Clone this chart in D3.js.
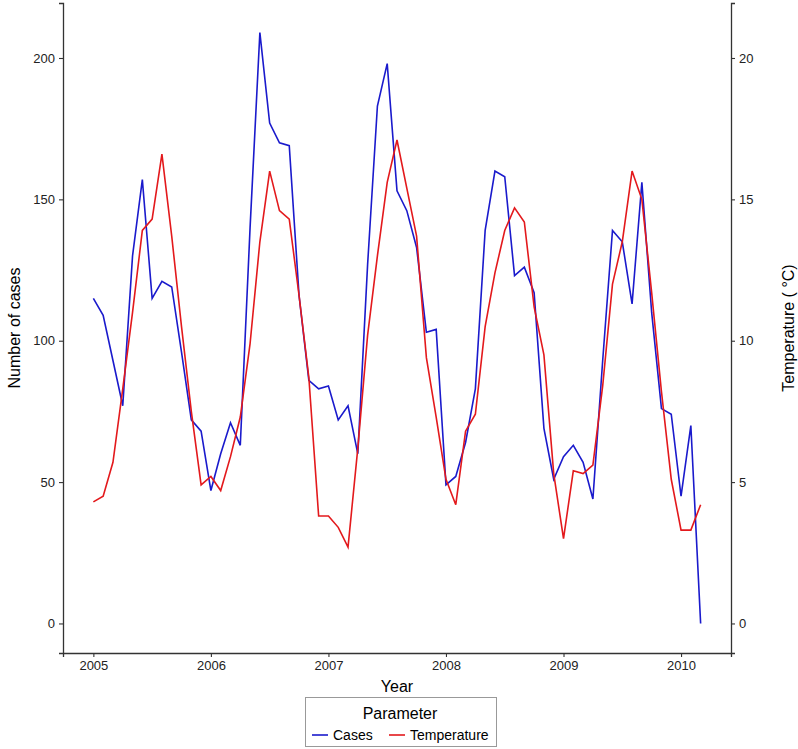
<!DOCTYPE html>
<html><head><meta charset="utf-8">
<script src="https://d3js.org/d3.v7.min.js"></script>
<style>body{margin:0;background:#fff;} text{font-family:"Liberation Sans",Arial,sans-serif;}</style>
</head><body>
<svg id="chart" width="798" height="749"></svg>
<script>
// Monthly observations, Jan 2005 .. Mar 2010
const startYear = 2005;
const cases = [115,109,93,77,130,157,115,121,119,96,72,68,
               47,60,71,63,140,209,177,170,169,116,86,83,
               84,72,77,60,127,183,198,153,146,133,103,104,
               49,52,64,83,139,160,158,123,126,117,69,51,
               59,63,57,44,93,139,135,113,156,110,76,74,
               45,70,0];
const temperature = [4.3,4.5,5.7,8.3,11.0,13.9,14.3,16.6,13.7,10.5,7.5,4.9,
                     5.2,4.7,5.9,7.3,9.9,13.5,16.0,14.6,14.3,11.6,8.7,3.8,
                     3.8,3.4,2.7,6.2,10.2,13.0,15.6,17.1,15.4,13.7,9.4,7.3,
                     5.1,4.2,6.8,7.4,10.5,12.4,13.9,14.7,14.2,11.2,9.5,5.3,
                     3.0,5.4,5.3,5.6,8.4,12.0,13.5,16.0,15.0,11.7,8.2,5.1,
                     3.3,3.3,4.2];
const xTicks = [2005,2006,2007,2008,2009,2010];
const leftTicks = [0,50,100,150,200];
const rightTicks = [0,5,10,15,20];
const seriesNames = ["Cases","Temperature"];
const seriesColors = ["#1a1acc","#e3191c"];
const tempFactor = 10; // secondary axis: temperature = cases / 10

const svg = d3.select("#chart");
const panel = {left:63, right:731, top:3, bottom:653};

const t = cases.map((_, i) => startYear + i/12);
const xMin = d3.min(t), xMax = d3.max(t);
const xPad = (xMax - xMin) * 0.05;
const x = d3.scaleLinear().domain([xMin - xPad, xMax + xPad]).range([panel.left, panel.right]);
const yMaxData = Math.max(d3.max(cases), d3.max(temperature) * tempFactor);
const yPad = yMaxData * 0.05;
const y = d3.scaleLinear().domain([-yPad, yMaxData + yPad]).range([panel.bottom, panel.top]);
const yR = d3.scaleLinear().domain(y.domain().map(v => v / tempFactor)).range(y.range());

const axisColor = "#333";
function styleAxis(g){
  g.select(".domain").attr("stroke", axisColor).attr("stroke-width", 1.3);
  g.selectAll(".tick line").attr("stroke", axisColor).attr("stroke-width", 1.1);
  g.selectAll(".tick text").attr("fill", "#222").style("font-size", "13px");
}
svg.append("g").attr("transform", `translate(0,${panel.bottom})`)
  .call(d3.axisBottom(x).tickValues(xTicks).tickFormat(d3.format("d")).tickSizeOuter(0).tickSize(4).tickPadding(4))
  .call(styleAxis);
svg.append("g").attr("transform", `translate(${panel.left},0)`)
  .call(d3.axisLeft(y).tickValues(leftTicks).tickSizeOuter(0).tickSize(4).tickPadding(4))
  .call(styleAxis);
svg.append("g").attr("transform", `translate(${panel.right},0)`)
  .call(d3.axisRight(yR).tickValues(rightTicks).tickSizeOuter(0).tickSize(4).tickPadding(4))
  .call(styleAxis);

const line = d3.line().x(d => x(d[0])).y(d => y(d[1]));
const series = [
  cases.map((v,i) => [t[i], v]),
  temperature.map((v,i) => [t[i], v * tempFactor])
];
series.forEach((s, k) => {
  svg.append("path").datum(s).attr("d", line)
    .attr("fill", "none").attr("stroke", seriesColors[k]).attr("stroke-width", 1.6)
    .attr("stroke-linejoin", "miter");
});

// Axis titles
svg.append("text").attr("x", (panel.left+panel.right)/2).attr("y", 692)
  .attr("text-anchor", "middle").style("font-size", "16px").attr("fill", "#000").text("Year");
svg.append("text").attr("transform", `translate(20,${(panel.top+panel.bottom)/2}) rotate(-90)`)
  .attr("text-anchor", "middle").style("font-size", "16px").attr("fill", "#000").text("Number of cases");
svg.append("text").attr("transform", `translate(794,${(panel.top+panel.bottom)/2}) rotate(-90)`)
  .attr("text-anchor", "middle").style("font-size", "16px").attr("fill", "#000").text("Temperature ( °C)");

// Legend
const lg = svg.append("g");
lg.append("rect").attr("x", 305.5).attr("y", 697.5).attr("width", 191).attr("height", 49)
  .attr("fill", "#fff").attr("stroke", "#999").attr("stroke-width", 1);
lg.append("text").attr("x", 400).attr("y", 719).attr("text-anchor", "middle")
  .style("font-size", "16px").attr("fill", "#000").text("Parameter");
const itemX = [312, 389];
seriesNames.forEach((n, k) => {
  lg.append("line").attr("x1", itemX[k]).attr("x2", itemX[k] + 16).attr("y1", 735).attr("y2", 735)
    .attr("stroke", seriesColors[k]).attr("stroke-width", 1.6);
  lg.append("text").attr("x", itemX[k] + 21).attr("y", 740)
    .style("font-size", "14px").attr("fill", "#000").text(n);
});
</script>
</body></html>
